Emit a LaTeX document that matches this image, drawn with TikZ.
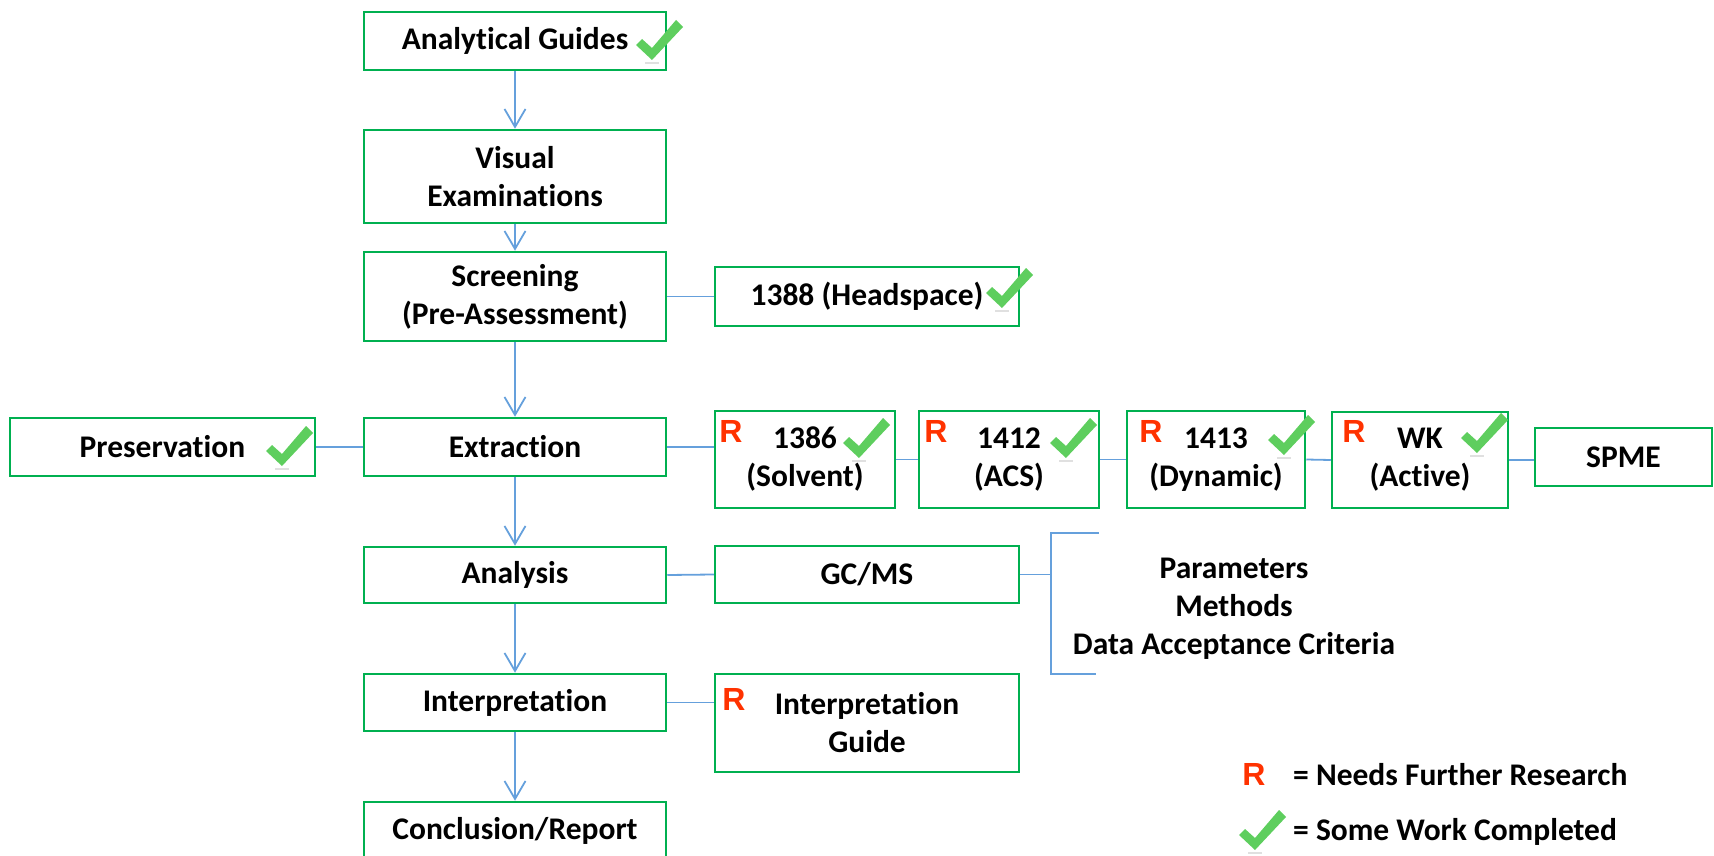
\documentclass[tikz,border=0pt]{standalone}
\usepackage{fontspec}
\setmainfont{Carlito}[Ligatures=NoCommon]
\newfontfamily\rfont{Liberation Sans}
\usetikzlibrary{arrows.meta}
\definecolor{boxgreen}{RGB}{0,176,80}
\definecolor{connblue}{RGB}{101,160,220}
\definecolor{chkgreen}{RGB}{94,206,94}
\definecolor{rred}{RGB}{255,50,0}
\tikzset{
  box/.style={draw=boxgreen, line width=2.5pt, rectangle, inner sep=0pt, align=center,
    font=\fontsize{31.5}{38}\selectfont\bfseries},
  conn/.style={draw=connblue, line width=1.8pt},
  arr/.style={conn, -{Straight Barb[length=18pt,width=21pt,line width=1.8pt]}},
  rlabel/.style={text=rred, inner sep=0pt, font=\fontsize{32}{32}\selectfont\rfont\bfseries},
  plain/.style={inner sep=0pt, align=center, font=\fontsize{31.5}{38}\selectfont\bfseries},
  chkmark/.pic={
    \draw[black!12, line width=1.5pt] (9,43) -- (23,43);
    \fill[chkgreen] (0,25) -- (6,19) -- (16,28) -- (40,0) -- (47,7) -- (16,40) -- cycle;
  }
}
\begin{document}
\begin{tikzpicture}[x=1pt,y=-1pt]
\useasboundingbox (0,0) rectangle (1714,856);
% main column
\node[box, minimum width=302pt, minimum height=58pt] (ag) at (515,41) {Analytical Guides};
\node[box, minimum width=302pt, minimum height=93pt] (ve) at (515,176.5) {Visual\\Examinations};
\node[box, minimum width=302pt, minimum height=89pt] (scr) at (515,296.5) {Screening\\(Pre-Assessment)};
\node[box, minimum width=302pt, minimum height=58pt] (ext) at (515,447) {Extraction};
\node[box, minimum width=302pt, minimum height=56pt] (ana) at (515,575) {Analysis};
\node[box, minimum width=302pt, minimum height=57pt] (intp) at (515,702.5) {Interpretation};
\node[box, minimum width=302pt, minimum height=58pt] (conc) at (515,831) {Conclusion/Report};
% side boxes
\node[box, minimum width=305pt, minimum height=58pt] (pres) at (162.5,447) {Preservation};
\node[box, minimum width=304pt, minimum height=59pt] (hs) at (867,296.5) {1388 (Headspace)};
\node[box, minimum width=180pt, minimum height=97pt] (s1386) at (805,459.5) {1386\\(Solvent)};
\node[box, minimum width=180pt, minimum height=97pt] (s1412) at (1009,459.5) {1412\\(ACS)};
\node[box, minimum width=178pt, minimum height=97pt] (s1413) at (1216,459.5) {1413\\(Dynamic)};
\node[box, minimum width=176pt, minimum height=96pt] (wk) at (1420,460) {WK\\(Active)};
\node[box, minimum width=177pt, minimum height=58pt] (spme) at (1623.5,457) {SPME};
\node[box, minimum width=304pt, minimum height=57pt] (gcms) at (867,574.5) {GC/MS};
\node[box, minimum width=304pt, minimum height=98pt] (ig) at (867,723) {Interpretation\\Guide};
\node[plain] (params) at (1234,609) {Parameters\\Methods\\Data Acceptance Criteria};
% R labels
\node[rlabel] (r1) at (731,431) {R};
\node[rlabel] (r2) at (936,431) {R};
\node[rlabel] (r3) at (1151,431) {R};
\node[rlabel] (r4) at (1354,431) {R};
\node[rlabel] (r5) at (734,699) {R};
% legend
\node[rlabel] (lr) at (1254,774) {R};
\node[plain, anchor=base west] (l1) at (1293,785) {= Needs Further Research};
\node[plain, anchor=base west] (l2) at (1293,840) {= Some Work Completed};
% check marks
\pic at (636,20) {chkmark};
\pic at (986,268) {chkmark};
\pic at (266,426) {chkmark};
\pic at (843,418) {chkmark};
\pic at (1050,418) {chkmark};
\pic at (1268,415) {chkmark};
\pic at (1461,413) {chkmark};
\pic at (1239,810) {chkmark};
% arrows
\draw[arr] (ag) -- (ve);
\draw[arr] (ve) -- (scr);
\draw[arr] (scr) -- (ext);
\draw[arr] (ext) -- (ana);
\draw[arr] (ana) -- (intp);
\draw[arr] (intp) -- (conc);
% plain connectors
\draw[conn] (scr.east) -- (scr.east -| hs.west);
\draw[conn] (pres.east) -- (ext.west);
\draw[conn] (ext.east) -- (ext.east -| s1386.west);
\draw[conn] (s1386.east) -- (s1412.west);
\draw[conn] (s1412.east) -- (s1413.west);
\draw[conn] (s1413.east) -- (wk.west);
\draw[conn] (wk.east) -- (wk.east -| spme.west);
\draw[conn] (ana.east) -- (gcms.west);
\draw[conn] (intp.east) -- (intp.east -| ig.west);
% bracket
\coordinate (bm) at (1051,572);
\coordinate (bt) at (1051,533);
\coordinate (bt2) at (1099,533);
\coordinate (bb) at (1051,674);
\coordinate (bb2) at (1096,674);
\draw[conn] (gcms.east) -- (gcms.east -| bm);
\draw[conn] (bt2) -- (bt) -- (bb) -- (bb2);
\end{tikzpicture}
\end{document}
